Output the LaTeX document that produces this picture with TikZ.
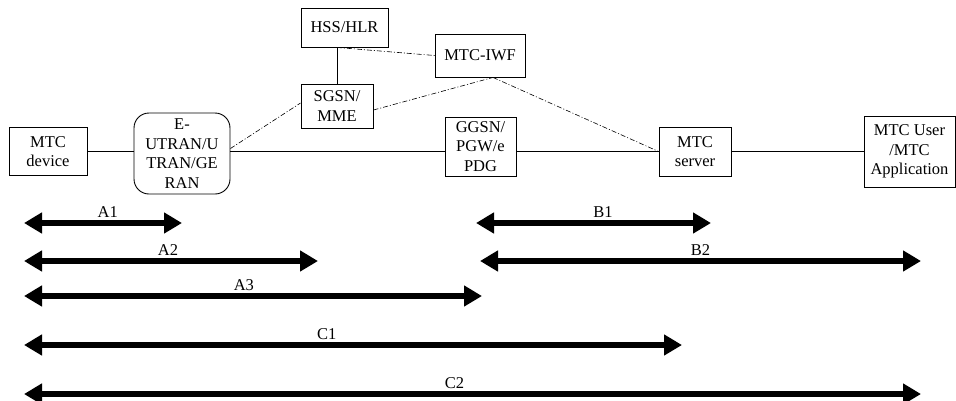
\documentclass[tikz,border=0pt]{standalone}
\usepackage{fontspec}
\setmainfont{Liberation Serif}
\usepackage{tikz}
\usetikzlibrary{arrows.meta,positioning}

\begin{document}
\begin{tikzpicture} [
    x = 1pt, y = -1pt,
    every node/.style = { font = \fontsize{16.5}{19.5}\selectfont },
    box/.style = { draw, line width = 0.9pt, align = center, inner sep = 1pt },
    link/.style = { line width = 0.9pt },
    ctrl/.style = { line width = 0.6pt, dash pattern = on 5pt off 2pt on 1pt off 2pt },
    span/.style = { line width = 5.5pt, {Triangle[width=20pt,length=18pt]}-{Triangle[width=20pt,length=18pt]} },
    lbl/.style = { anchor = base, yshift = 6pt, inner sep = 0 }
    ]
  \useasboundingbox (0,0) rectangle (956,400);

  % network elements
  \node [box, minimum width = 78pt, minimum height = 48pt] (dev) at (48,151.5) {MTC\\device};
  \node [box, rounded corners = 15pt, minimum width = 96pt, minimum height = 81pt] (ran) at (182,153.5) {E-\\UTRAN/U\\TRAN/GE\\RAN};
  \node [box, minimum width = 87pt, minimum height = 39pt] (hss) at (344.5,27.5) {HSS/HLR};
  \node [box, minimum width = 72pt, minimum height = 44pt] (sgsn) at (337,106) {SGSN/\\MME};
  \node [box, minimum width = 90pt, minimum height = 43pt] (iwf) at (480,55.5) {MTC-IWF};
  \node [box, minimum width = 71pt, minimum height = 59pt] (ggsn) at (480.5,146.5) {GGSN/\\PGW/e\\PDG};
  \node [box, minimum width = 72pt, minimum height = 49pt] (srv) at (695,151.5) {MTC\\server};
  \node [box, minimum width = 91pt, minimum height = 71pt] (usr) at (909.5,151.5) {MTC User\\/MTC\\Application};

  % user plane
  \draw [link] (dev.east) -- (dev.east -| ran.west);
  \draw [link] (ran.east |- dev.east) -- (ggsn.west |- dev.east);
  \draw [link] (ggsn.east |- dev.east) -- (srv.west);
  \draw [link] (srv.east) -- (usr.west |- srv.east);
  \draw [link] (sgsn.north) -- (sgsn.north |- hss.south);

  % control plane
  \coordinate (iwfb) at ([xshift = 13pt] iwf.south);
  \draw [ctrl] (sgsn.north |- hss.south) -- (iwf.west);
  \draw [ctrl] ([yshift = 5pt] ran.east) -- ([yshift = 3pt] sgsn.west);
  \draw [ctrl] ([yshift = -4pt] sgsn.east) -- (iwfb);
  \draw [ctrl] (iwfb) -- (srv.west);

  % reference spans
  \foreach \a/\b/\y/\p/\t in {24/182/223/0.53/A1, 24/318/261/0.49/A2, 24/482/296/0.48/A3,
      476/711/223/0.54/B1, 480/921/261/0.50/B2, 24/682/345/0.46/C1, 24/921/394/0.48/C2} {
    \coordinate (\t-l) at (\a,\y);
    \coordinate (\t-r) at (\b,\y);
    \draw [span] (\t-l) -- node [lbl, pos = \p] {\t} (\t-r);
  }
\end{tikzpicture}
\end{document}
